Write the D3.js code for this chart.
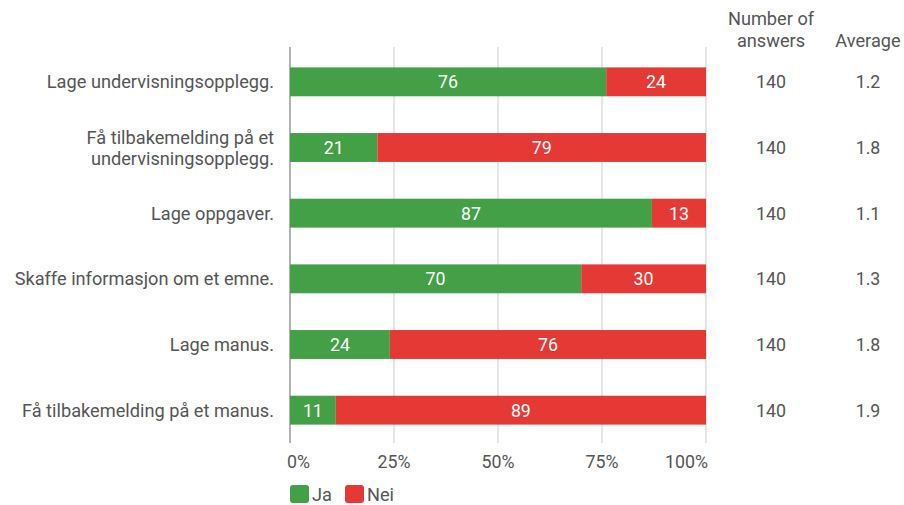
<!DOCTYPE html>
<html>
<head>
<meta charset="utf-8">
<script src="https://cdn.jsdelivr.net/npm/d3@7"></script>
<style>
  html, body { margin: 0; padding: 0; background: #fff; }
  svg { display: block; font-family: Roboto, "Noto Sans", sans-serif; }
</style>
</head>
<body>
<svg id="chart" width="904" height="505"></svg>
<script>
// Survey items (multi-line labels split with "\n")
const categories = [
  "Lage undervisningsopplegg.",
  "Få tilbakemelding på et\nundervisningsopplegg.",
  "Lage oppgaver.",
  "Skaffe informasjon om et emne.",
  "Lage manus.",
  "Få tilbakemelding på et manus."
];
const jaValues  = [76, 21, 87, 70, 24, 11];
const neiValues = [24, 79, 13, 30, 76, 89];
const answers   = [140, 140, 140, 140, 140, 140];
const averages  = ["1.2", "1.8", "1.1", "1.3", "1.8", "1.9"];
const tickValues = [0, 25, 50, 75, 100];
const seriesNames = ["Ja", "Nei"];
const seriesColors = ["#43a047", "#e53935"];

const svg = d3.select("#chart");
const textColor = "#555";
const fs = 18.2;     // words
const fsNum = 17.8;  // numbers

const x = d3.scaleLinear().domain([0, 100]).range([290, 706]);
const y = d3.scaleBand().domain(d3.range(categories.length)).range([49, 443]).paddingInner(0.56).paddingOuter(0.28);

// Gridlines
svg.append("g").selectAll("line").data(tickValues).join("line")
  .attr("x1", d => x(d)).attr("x2", d => x(d))
  .attr("y1", 47).attr("y2", 443)
  .attr("stroke", d => d === 0 ? "#999" : "#ccc")
  .attr("stroke-width", d => d === 0 ? 1.5 : 1);

// Tick labels: the end labels are kept inside the plot edges
const last = tickValues.length - 1;
svg.append("g").selectAll("text").data(tickValues).join("text")
  .attr("x", (d, i) => i === 0 ? x(d) - 3 : i === last ? x(d) + 2 : x(d))
  .attr("y", 462).attr("dy", "0.36em")
  .attr("text-anchor", (d, i) => i === 0 ? "start" : i === last ? "end" : "middle")
  .attr("font-size", fsNum).attr("fill", textColor)
  .text(d => d + "%");

// Stacked bars
const stackData = categories.map((c, i) => ({ i, Ja: jaValues[i], Nei: neiValues[i] }));
const stack = d3.stack().keys(seriesNames)(stackData);

const layers = svg.append("g").selectAll("g").data(stack).join("g")
  .attr("fill", (d, k) => seriesColors[k]);

layers.selectAll("rect").data(d => d).join("rect")
  .attr("x", d => x(d[0]))
  .attr("width", d => x(d[1]) - x(d[0]))
  .attr("y", d => y(d.data.i))
  .attr("height", y.bandwidth());

layers.selectAll("text").data(d => d).join("text")
  .attr("x", d => (x(d[0]) + x(d[1])) / 2)
  .attr("y", d => y(d.data.i) + y.bandwidth() / 2)
  .attr("dy", "0.36em")
  .attr("text-anchor", "middle")
  .attr("font-size", fsNum).attr("fill", "#fff")
  .text(d => d[1] - d[0]);

// Category labels
const lineH = 21;
svg.append("g").selectAll("text").data(categories).join("text")
  .attr("text-anchor", "end")
  .attr("font-size", fs).attr("fill", textColor)
  .each(function (d, i) {
    const lines = d.split("\n");
    const cy = y(i) + y.bandwidth() / 2;
    const t = d3.select(this);
    lines.forEach((ln, k) => {
      t.append("tspan")
        .attr("x", 274)
        .attr("y", cy + (k - (lines.length - 1) / 2) * lineH)
        .attr("dy", "0.36em")
        .text(ln);
    });
  });

// Side columns
const colAnswersX = 771, colAvgX = 868;
svg.append("text").attr("x", colAnswersX).attr("y", 18).attr("dy", "0.36em")
  .attr("text-anchor", "middle").attr("font-size", fs).attr("fill", textColor).text("Number of");
svg.append("text").attr("x", colAnswersX).attr("y", 40).attr("dy", "0.36em")
  .attr("text-anchor", "middle").attr("font-size", fs).attr("fill", textColor).text("answers");
svg.append("text").attr("x", colAvgX).attr("y", 40).attr("dy", "0.36em")
  .attr("text-anchor", "middle").attr("font-size", fs).attr("fill", textColor).text("Average");

svg.append("g").selectAll("text").data(answers).join("text")
  .attr("x", colAnswersX).attr("y", (d, i) => y(i) + y.bandwidth() / 2).attr("dy", "0.36em")
  .attr("text-anchor", "middle").attr("font-size", fsNum).attr("fill", textColor).text(d => d);
svg.append("g").selectAll("text").data(averages).join("text")
  .attr("x", colAvgX).attr("y", (d, i) => y(i) + y.bandwidth() / 2).attr("dy", "0.36em")
  .attr("text-anchor", "middle").attr("font-size", fsNum).attr("fill", textColor).text(d => d);

// Legend
const legendX = [290, 345];
const legend = svg.append("g").selectAll("g").data(seriesNames).join("g")
  .attr("transform", (d, k) => `translate(${legendX[k]},485)`);
legend.append("rect").attr("width", 19).attr("height", 18).attr("rx", 3)
  .attr("fill", (d, k) => seriesColors[k]);
legend.append("text").attr("x", 22).attr("y", 9).attr("dy", "0.36em")
  .attr("font-size", fs).attr("fill", textColor).text(d => d);
</script>
</body>
</html>
